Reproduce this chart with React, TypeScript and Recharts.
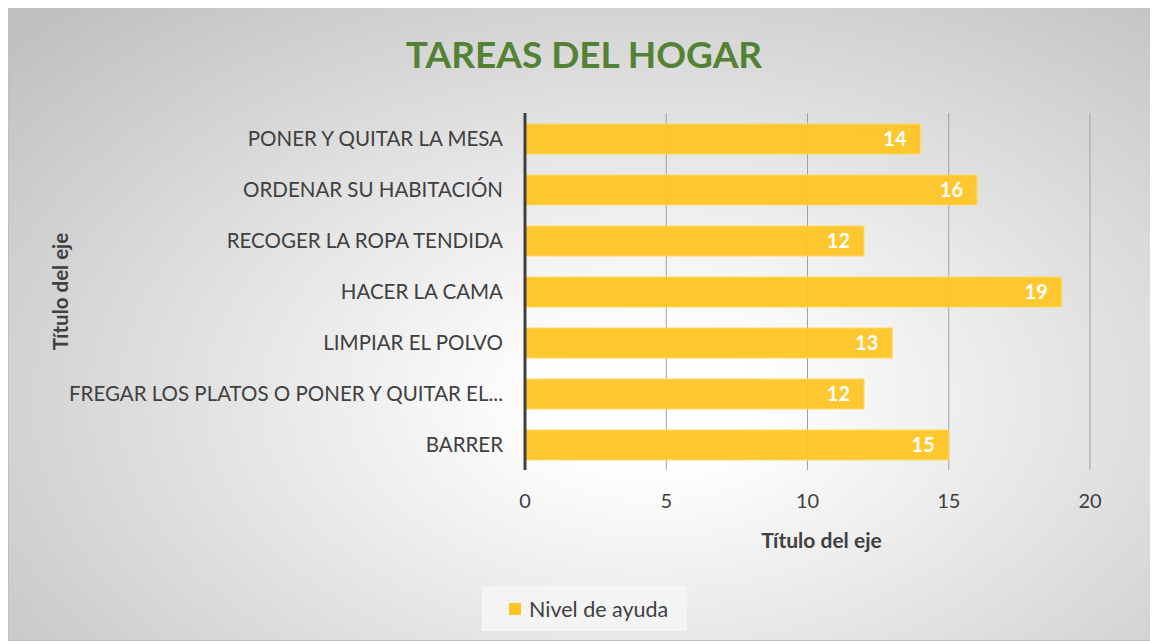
import React from 'react';
import { BarChart, Bar, XAxis, YAxis, CartesianGrid, LabelList } from 'recharts';

const categories = [
  'PONER Y QUITAR LA MESA',
  'ORDENAR SU HABITACIÓN',
  'RECOGER LA ROPA TENDIDA',
  'HACER LA CAMA',
  'LIMPIAR EL POLVO',
  'FREGAR LOS PLATOS O PONER Y QUITAR EL...',
  'BARRER',
];
const nivelDeAyuda = [14, 16, 12, 19, 13, 12, 15];
const xTicks = [0, 5, 10, 15, 20];

const data = categories.map((name, i) => ({ name, nivel: nivelDeAyuda[i] }));

const FONT = 'Lato, "Open Sans", sans-serif';
const TEXT = '#404040';
const BAR = '#FFC524';

export default function App() {
  return (
    <div
      style={{
        position: 'relative',
        width: 1150,
        height: 634,
        marginTop: -1,
        border: '1px solid #bfbfbf',
        boxSizing: 'border-box',
        background:
          'radial-gradient(ellipse 75% 85% at 56% 62%, #ffffff 0%, #ffffff 12%, #c0c0c0 100%)',
        fontFamily: FONT,
      }}
    >
      <div
        style={{
          position: 'absolute',
          left: 0,
          width: 1150,
          top: 23,
          textAlign: 'center',
          fontSize: 37,
          fontWeight: 700,
          color: '#548235',
          fontFamily: FONT,
        }}
      >
        TAREAS DEL HOGAR
      </div>
      <BarChart
        width={1150}
        height={634}
        data={data}
        layout="vertical"
        barSize={30}
        margin={{ top: 105, right: 69, left: 0, bottom: 0 }}
        style={{ fontFamily: FONT }}
      >
        <CartesianGrid horizontal={false} stroke="#a0a0a0" strokeWidth={1} />
        <XAxis
          type="number"
          domain={[0, 20]}
          ticks={xTicks}
          axisLine={false}
          tickLine={false}
          tickSize={0}
          tickMargin={24}
          height={172}
          tick={{ fontSize: 20, fill: TEXT }}
          label={{
            value: 'Título del eje',
            position: 'insideTop',
            offset: 63,
            dx: 14,
            style: { fontSize: 21, fontWeight: 700, fill: TEXT },
          }}
        />
        <YAxis
          type="category"
          dataKey="name"
          width={516}
          axisLine={{ stroke: '#404040', strokeWidth: 3 }}
          tickLine={false}
          tickSize={0}
          tickMargin={22}
          interval={0}
          tick={{ fontSize: 20.5, fill: TEXT }}
          label={{
            value: 'Título del eje',
            angle: -90,
            position: 'insideLeft',
            offset: 52,
            style: { fontSize: 20.5, fontWeight: 700, fill: TEXT, textAnchor: 'middle' },
          }}
        />
        <Bar
          dataKey="nivel"
          fill={BAR}
          fillOpacity={0.94}
          stroke="#ffd966"
          strokeWidth={1}
          isAnimationActive={false}
        >
          <LabelList
            dataKey="nivel"
            position="insideRight"
            offset={14}
            style={{ fill: '#ffffff', fontSize: 20, fontWeight: 700 }}
          />
        </Bar>
      </BarChart>
      <div
        style={{
          position: 'absolute',
          left: 473,
          top: 578,
          width: 205,
          height: 45,
          background: 'rgba(245,245,245,0.9)',
          display: 'flex',
          alignItems: 'center',
          boxSizing: 'border-box',
          paddingLeft: 27,
          fontSize: 21.5,
          color: TEXT,
        }}
      >
        <span
          style={{
            display: 'inline-block',
            width: 12,
            height: 12,
            background: BAR,
            marginRight: 8,
          }}
        />
        Nivel de ayuda
      </div>
    </div>
  );
}
